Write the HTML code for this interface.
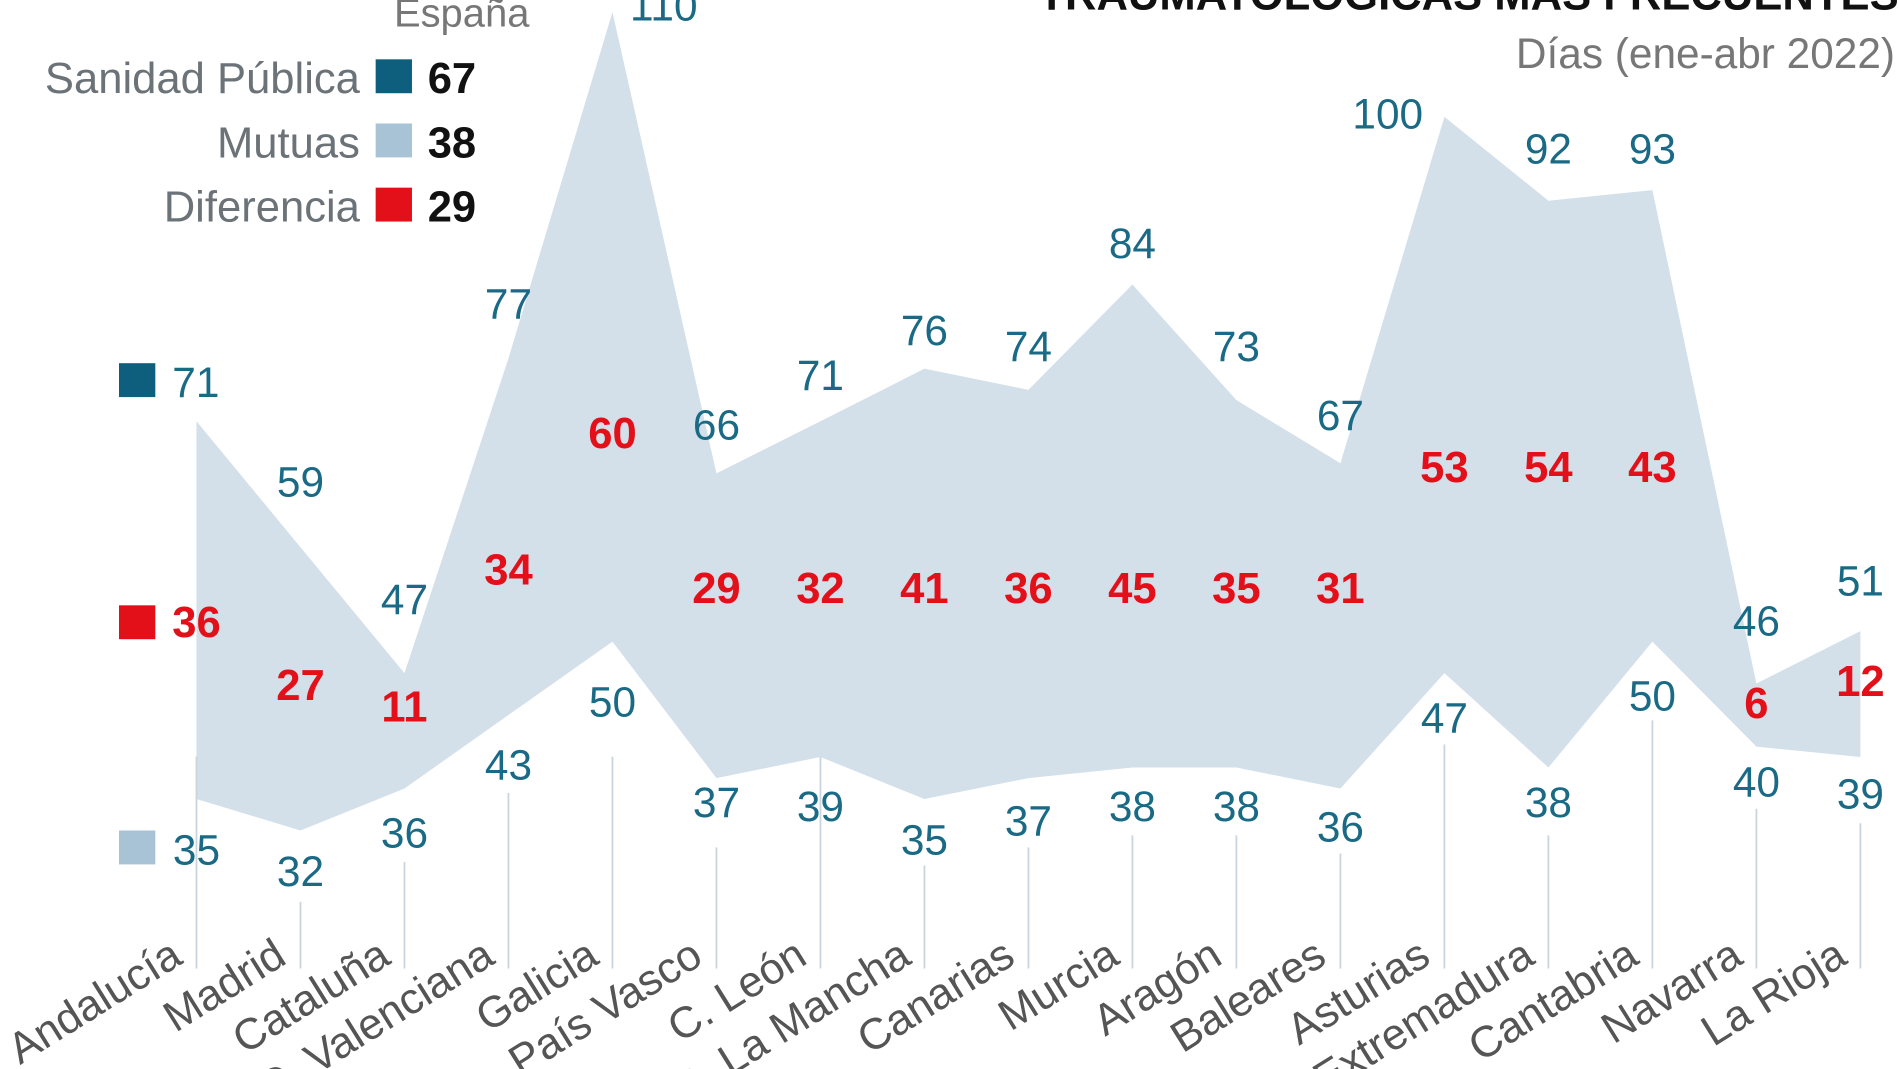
<!DOCTYPE html>
<html><head><meta charset="utf-8"><style>
html,body{margin:0;padding:0;background:#fff;overflow:hidden}
svg{display:block}
text{font-family:"Liberation Sans",sans-serif}
.t{font-size:35px;fill:#1a6a86;text-anchor:middle}
.d{font-size:36px;font-weight:bold;fill:#e3101a;text-anchor:middle}
.n{font-size:36px;fill:#555;text-anchor:end}
line{stroke:#c9d6df;stroke-width:1.5}
</style></head><body>
<svg width="1899" height="1069" viewBox="0 0 1568 883" xmlns="http://www.w3.org/2000/svg">
<rect width="1568" height="883" fill="#fff"/>
<polygon fill="#d3e0ea" points="162,348 247.9,452 333.8,556 419.7,296 505.6,10 591.5,391 677.4,348 763.3,304.5 849.2,322 935.1,235 1021,330.5 1106.9,382.6 1192.8,96.5 1278.7,165.8 1364.6,157 1450.5,564.6 1536.4,521.3 1536.4,625.3 1450.5,616.7 1364.6,530 1278.7,634 1192.8,556 1106.9,651.3 1021,634 935.1,634 849.2,642.7 763.3,660 677.4,625.3 591.5,642.7 505.6,530 419.7,590.6 333.8,651.3 247.9,686 162,660"/>
<line x1="162" y1="625" x2="162" y2="800"/>
<line x1="247.9" y1="745" x2="247.9" y2="800"/>
<line x1="333.8" y1="712" x2="333.8" y2="800"/>
<line x1="419.7" y1="655" x2="419.7" y2="800"/>
<line x1="505.6" y1="625" x2="505.6" y2="800"/>
<line x1="591.5" y1="700" x2="591.5" y2="800"/>
<line x1="677.4" y1="625" x2="677.4" y2="800"/>
<line x1="763.3" y1="715" x2="763.3" y2="800"/>
<line x1="849.2" y1="700" x2="849.2" y2="800"/>
<line x1="935.1" y1="690" x2="935.1" y2="800"/>
<line x1="1021" y1="690" x2="1021" y2="800"/>
<line x1="1106.9" y1="705" x2="1106.9" y2="800"/>
<line x1="1192.8" y1="615" x2="1192.8" y2="800"/>
<line x1="1278.7" y1="690" x2="1278.7" y2="800"/>
<line x1="1364.6" y1="595" x2="1364.6" y2="800"/>
<line x1="1450.5" y1="668" x2="1450.5" y2="800"/>
<line x1="1536.4" y1="680" x2="1536.4" y2="800"/>
<text class="t" x="162" y="328" style="text-anchor:start" dx="-20">71</text>
<text class="t" x="247.9" y="410">59</text>
<text class="t" x="333.8" y="507">47</text>
<text class="t" x="419.7" y="263">77</text>
<text class="t" x="548" y="17">110</text>
<text class="t" x="591.5" y="363">66</text>
<text class="t" x="677.4" y="322">71</text>
<text class="t" x="763.3" y="285">76</text>
<text class="t" x="849.2" y="298">74</text>
<text class="t" x="935.1" y="213">84</text>
<text class="t" x="1021" y="298">73</text>
<text class="t" x="1106.9" y="355">67</text>
<text class="t" x="1146" y="106">100</text>
<text class="t" x="1278.7" y="135">92</text>
<text class="t" x="1364.6" y="135">93</text>
<text class="t" x="1450.5" y="525">46</text>
<text class="t" x="1536.4" y="492">51</text>
<text class="t" x="162" y="714">35</text>
<text class="t" x="247.9" y="732">32</text>
<text class="t" x="333.8" y="700">36</text>
<text class="t" x="419.7" y="644">43</text>
<text class="t" x="505.6" y="592">50</text>
<text class="t" x="591.5" y="675">37</text>
<text class="t" x="677.4" y="678">39</text>
<text class="t" x="763.3" y="706">35</text>
<text class="t" x="849.2" y="690">37</text>
<text class="t" x="935.1" y="678">38</text>
<text class="t" x="1021" y="678">38</text>
<text class="t" x="1106.9" y="695">36</text>
<text class="t" x="1192.8" y="605">47</text>
<text class="t" x="1278.7" y="675">38</text>
<text class="t" x="1364.6" y="587">50</text>
<text class="t" x="1450.5" y="658">40</text>
<text class="t" x="1536.4" y="668">39</text>
<text class="d" x="162" y="526">36</text>
<text class="d" x="247.9" y="578">27</text>
<text class="d" x="333.8" y="596">11</text>
<text class="d" x="419.7" y="483">34</text>
<text class="d" x="505.6" y="370">60</text>
<text class="d" x="591.5" y="498">29</text>
<text class="d" x="677.4" y="498">32</text>
<text class="d" x="763.3" y="498">41</text>
<text class="d" x="849.2" y="498">36</text>
<text class="d" x="935.1" y="498">45</text>
<text class="d" x="1021" y="498">35</text>
<text class="d" x="1106.9" y="498">31</text>
<text class="d" x="1192.8" y="398">53</text>
<text class="d" x="1278.7" y="398">54</text>
<text class="d" x="1364.6" y="398">43</text>
<text class="d" x="1450.5" y="593">6</text>
<text class="d" x="1536.4" y="575">12</text>
<text class="n" transform="translate(152,795) rotate(-32)">Andalucía</text>
<text class="n" transform="translate(238,795) rotate(-32)">Madrid</text>
<text class="n" transform="translate(324,795) rotate(-32)">Cataluña</text>
<text class="n" transform="translate(410,795) rotate(-32)">C. Valenciana</text>
<text class="n" transform="translate(496,795) rotate(-32)">Galicia</text>
<text class="n" transform="translate(582,795) rotate(-32)">País Vasco</text>
<text class="n" transform="translate(668,795) rotate(-32)">C. León</text>
<text class="n" transform="translate(754,795) rotate(-32)">C. La Mancha</text>
<text class="n" transform="translate(840,795) rotate(-32)">Canarias</text>
<text class="n" transform="translate(926,795) rotate(-32)">Murcia</text>
<text class="n" transform="translate(1011,795) rotate(-32)">Aragón</text>
<text class="n" transform="translate(1097,795) rotate(-32)">Baleares</text>
<text class="n" transform="translate(1183,795) rotate(-32)">Asturias</text>
<text class="n" transform="translate(1269,795) rotate(-32)">Extremadura</text>
<text class="n" transform="translate(1355,795) rotate(-32)">Cantabria</text>
<text class="n" transform="translate(1441,795) rotate(-32)">Navarra</text>
<text class="n" transform="translate(1527,795) rotate(-32)">La Rioja</text>
<text x="1568" y="8" text-anchor="end" font-size="36" font-weight="bold" fill="#111">TRAUMATOLÓGICAS MÁS FRECUENTES</text>
<text x="1565" y="56" text-anchor="end" font-size="35" fill="#777">Días (ene-abr 2022)</text>
<text x="437" y="22" text-anchor="end" font-size="33" fill="#777">España</text>
<text x="297" y="77" text-anchor="end" font-size="36" fill="#6b7378">Sanidad Pública</text>
<rect x="310" y="49" width="30" height="28" fill="#0e5e7e"/>
<text x="353" y="77" font-size="36" font-weight="bold" fill="#111">67</text>
<text x="297" y="130" text-anchor="end" font-size="36" fill="#6b7378">Mutuas</text>
<rect x="310" y="102" width="30" height="28" fill="#a8c3d5"/>
<text x="353" y="130" font-size="36" font-weight="bold" fill="#111">38</text>
<text x="297" y="183" text-anchor="end" font-size="36" fill="#6b7378">Diferencia</text>
<rect x="310" y="155" width="30" height="28" fill="#e3101a"/>
<text x="353" y="183" font-size="36" font-weight="bold" fill="#111">29</text>
<rect x="98" y="300" width="30" height="28" fill="#0e5e7e"/>
<rect x="98" y="500" width="30" height="28" fill="#e3101a"/>
<rect x="98" y="686" width="30" height="28" fill="#a8c3d5"/>
</svg>
</body></html>
